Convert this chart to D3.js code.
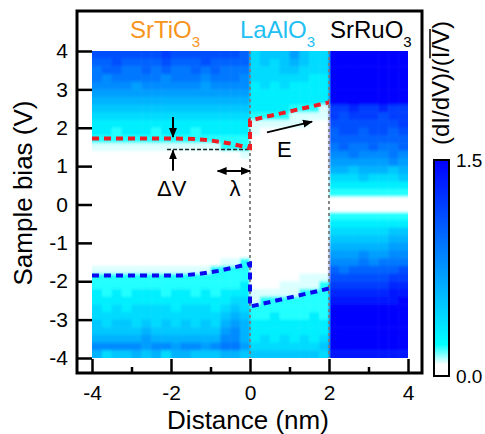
<!DOCTYPE html>
<html>
<head>
<meta charset="utf-8">
<script src="https://d3js.org/d3.v7.min.js"></script>
<style>
  body { margin:0; background:#fff; }
  text { font-family: "Liberation Sans", Arial, sans-serif; }
</style>
</head>
<body>
<script>
// map cells: 0.25 nm columns from -4 to 4, 0.2 V rows from 4 (top) to -4
// each char is a hex digit, value = digit / 10  (0.0 .. 1.5)
var colStep = 0.25, rowStep = 0.2;

var stoRows = [
  "bbbbbbbcbbbbbbba","aabaaaabaaabaaaa","9aa99a9a99a9a999","9899999899989998",
  "8888788888878888","7777777777777777","6666666666666666","5555555555555555",
  "4444444444444444","3333333333333333","3323332333233333","2222222222222222",
  "1111111111111222","0000000000000001","0000000000000000","0000000000000000",
  "0000000000000000","0000000000000000","0000000000000000","0000000000000000",
  "0000000000000000","0000000000000000","0000000000000000","0000000000000000",
  "0000000000000000","0000000000000000","0000000000000000","0000000000000112",
  "1111111111112222","2222222222222222","2222222222222223","3232333233232333",
  "3333333333333344","4343444434443454","4444444444444565","5455454545454676",
  "5555565555555786","6666676666666886","8888878878878997","6455656466555665"
];
var laoRows = [
  "45557544","45456544","44455444","44444433","34343333","33333333","33333333","33332221",
  "22221111","11111100","10000000","00000000","00000000","00000000","00000000","00000000",
  "00000000","00000000","00000000","00000000","00000000","00000000","00000000","00000000",
  "00000000","00000000","00000000","00000000","00000000","00000111","00011112","11111222",
  "12222222","22222222","22322232","33333333","33333333","34343434","44444445","55555554"
];
var sroRows = [
  "ffffffff","ffffffff","ffffffff","ffffffff","ffffffff","ffffffff","ffffffff","ccdccdcc",
  "cbcccbcc","bbbbbbbc","abbabbab","aaaaaaaa","9a99a99a","88988898","77777787","66566656",
  "44454445","33333333","22222222","00000000","00000000","22222222","33333333","44444455",
  "55555566","66666677","77787788","88898999","a9aaaaab","bbbbbbcc","ccccccdd","ddddddee",
  "eeeeeeef","ffffffff","ffffffff","ffffffff","ffffffff","ffffffff","ffffffff","eeeeeeee"
];

var layers = [
  { name: "SrTiO", color: "#f7941e", x0: -4 },
  { name: "LaAlO", color: "#22bff3", x0: 0 },
  { name: "SrRuO", color: "#000000", x0: 2 }
];
var interfaces = [0, 2];
var xTicks = [-4, -2, 0, 2, 4];
var xMinor = [-3, -1, 1, 3];
var yTicks = [-4, -3, -2, -1, 0, 1, 2, 3, 4];

// band edges (nm, V)
var cbEdge = [[-4, 1.72], [-2, 1.72], [-1.4, 1.71], [-1, 1.67], [-0.5, 1.59], [0, 1.47], [0, 2.19], [2, 2.66]];
var vbEdge = [[-4, -1.85], [-1.75, -1.85], [-1.3, -1.81], [-0.8, -1.73], [-0.4, -1.64], [0, -1.54], [0, -2.66], [2, -2.19]];
var offsetLine = [[-2.1, 1.43], [0, 1.43]];

var svg = d3.select("body").append("svg")
  .attr("width", 485)
  .attr("height", 434);

var x = d3.scaleLinear().domain([-4, 4]).range([92, 408]);
var y = d3.scaleLinear().domain([-4, 4]).range([358, 51]);

var color = d3.scaleLinear()
  .domain([0, 0.08, 0.22, 1.5])
  .range(["#ffffff", "#ffffff", "#00ffff", "#0000ff"])
  .clamp(true);

var defs = svg.append("defs");
defs.append("clipPath").attr("id", "mapclip")
  .append("rect")
  .attr("x", x(-4)).attr("y", y(4))
  .attr("width", x(4) - x(-4)).attr("height", y(-4) - y(4));
var blur = defs.append("filter").attr("id", "soft")
  .attr("x", "-5%").attr("y", "-5%").attr("width", "110%").attr("height", "110%");
blur.append("feGaussianBlur").attr("stdDeviation", "0.8 1.8");

// build cells
var cells = [];
function addCells(rows, x0) {
  rows.forEach(function(row, r) {
    for (var c = 0; c < row.length; c++) {
      var cx = x0 + c * colStep;
      cells.push({
        x: cx,
        v: 4 - (r + 1) * rowStep,
        value: parseInt(row[c], 16) / 10,
        top: r === 0,
        bottom: r === rows.length - 1,
        left: cx === -4,
        right: cx + colStep === 4
      });
    }
  });
}
addCells(stoRows, -4);
addCells(laoRows, 0);
addCells(sroRows, 2);

// edge cells run a little past the map so the blur does not fade the border
var pad = 6;
svg.append("g").attr("clip-path", "url(#mapclip)")
  .append("g").attr("filter", "url(#soft)")
  .selectAll("rect")
  .data(cells)
  .enter()
  .append("rect")
  .attr("x", function(d) { return x(d.x) - (d.left ? pad : 0); })
  .attr("y", function(d) { return y(d.v + rowStep) - (d.top ? pad : 0); })
  .attr("width", function(d) { return x(d.x + colStep) - x(d.x) + 0.5 + (d.left ? pad : 0) + (d.right ? pad : 0); })
  .attr("height", function(d) { return y(d.v) - y(d.v + rowStep) + 0.5 + (d.top ? pad : 0) + (d.bottom ? pad : 0); })
  .attr("fill", function(d) { return color(d.value); });

// interface lines
svg.append("g").selectAll("line")
  .data(interfaces)
  .enter()
  .append("line")
  .attr("x1", function(d) { return x(d); })
  .attr("x2", function(d) { return x(d); })
  .attr("y1", y(4))
  .attr("y2", y(-4))
  .attr("stroke", "#7a7a7a")
  .attr("stroke-width", 1.8)
  .attr("stroke-dasharray", "3,3");

var line = d3.line().x(function(d) { return x(d[0]); }).y(function(d) { return y(d[1]); });

svg.append("path").attr("d", line(offsetLine))
  .attr("fill", "none").attr("stroke", "#222").attr("stroke-width", 1.5)
  .attr("stroke-dasharray", "4,2");

svg.append("path").attr("d", line(cbEdge))
  .attr("fill", "none").attr("stroke", "#ee1c24").attr("stroke-width", 4)
  .attr("stroke-dasharray", "7,5");

svg.append("path").attr("d", line(vbEdge))
  .attr("fill", "none").attr("stroke", "#0a0af0").attr("stroke-width", 4)
  .attr("stroke-dasharray", "7,5");

// arrows
defs.append("marker")
  .attr("id", "head")
  .attr("viewBox", "0 0 10 10")
  .attr("refX", 9).attr("refY", 5)
  .attr("markerWidth", 5).attr("markerHeight", 5)
  .attr("markerUnits", "strokeWidth")
  .attr("orient", "auto-start-reverse")
  .append("path").attr("d", "M0,1 L10,5 L0,9 z").attr("fill", "#000");

var arrows = [
  { from: [-1.95, 2.28], to: [-1.95, 1.76], both: false },
  { from: [-1.95, 0.88], to: [-1.95, 1.41], both: false },
  { from: [-0.82, 0.87], to: [0, 0.87], both: true },
  { from: [0.43, 1.88], to: [1.57, 2.16], both: false }
];
svg.append("g").selectAll("line")
  .data(arrows)
  .enter()
  .append("line")
  .attr("x1", function(d) { return x(d.from[0]); })
  .attr("y1", function(d) { return y(d.from[1]); })
  .attr("x2", function(d) { return x(d.to[0]); })
  .attr("y2", function(d) { return y(d.to[1]); })
  .attr("stroke", "#000")
  .attr("stroke-width", 2)
  .attr("marker-end", "url(#head)")
  .attr("marker-start", function(d) { return d.both ? "url(#head)" : null; });

var notes = [
  { t: "\u0394V", x: -1.98, v: 0.23 },
  { t: "\u03bb", x: -0.38, v: 0.23 },
  { t: "E", x: 0.87, v: 1.25 }
];
svg.append("g").selectAll("text")
  .data(notes)
  .enter()
  .append("text")
  .attr("x", function(d) { return x(d.x); })
  .attr("y", function(d) { return y(d.v); })
  .attr("text-anchor", "middle")
  .attr("font-size", 22)
  .text(function(d) { return d.t; });

// layer names
var names = svg.append("g").selectAll("text")
  .data(layers)
  .enter()
  .append("text")
  .attr("x", function(d, i) { return [130, 240, 330][i]; })
  .attr("y", 38)
  .attr("font-size", 24)
  .attr("fill", function(d) { return d.color; });
names.append("tspan").text(function(d) { return d.name; });
names.append("tspan").attr("font-size", 15).attr("dy", 9).text("3");

// axes
var xAxis = svg.append("g")
  .attr("transform", "translate(0,373)")
  .call(d3.axisBottom(x).tickValues(xTicks).tickSize(-14).tickPadding(12).tickFormat(function(d) { return String(d); }));
var xAxisMinor = svg.append("g")
  .attr("transform", "translate(0,373)")
  .call(d3.axisBottom(x).tickValues(xMinor).tickSize(-6).tickFormat(""));
var yAxis = svg.append("g")
  .attr("transform", "translate(77,0)")
  .call(d3.axisLeft(y).tickValues(yTicks).tickSize(-15).tickPadding(9).tickFormat(function(d) { return String(d); }));

[xAxis, xAxisMinor, yAxis].forEach(function(g) {
  g.select(".domain").remove();
  g.attr("font-size", 21).attr("font-family", "Liberation Sans, Arial, sans-serif");
  g.selectAll(".tick line").attr("stroke", "#000").attr("stroke-width", 2.5);
  g.selectAll(".tick text").attr("fill", "#000");
});

// frame
svg.append("rect")
  .attr("x", 77).attr("y", 11)
  .attr("width", 345).attr("height", 362)
  .attr("fill", "none").attr("stroke", "#000").attr("stroke-width", 3);

svg.append("text")
  .attr("x", 248).attr("y", 429)
  .attr("text-anchor", "middle")
  .attr("font-size", 26)
  .text("Distance (nm)");

svg.append("text")
  .attr("transform", "translate(32,193) rotate(-90)")
  .attr("text-anchor", "middle")
  .attr("font-size", 26)
  .text("Sample bias (V)");

// colour bar
var cb = d3.scaleLinear().domain([0, 1.5]).range([376, 160]);
var grad = defs.append("linearGradient")
  .attr("id", "cbar").attr("x1", 0).attr("y1", 1).attr("x2", 0).attr("y2", 0);
d3.range(0, 1.501, 0.02).forEach(function(v) {
  grad.append("stop").attr("offset", v / 1.5).attr("stop-color", color(v));
});
svg.append("rect")
  .attr("x", 434).attr("y", cb(1.5))
  .attr("width", 15).attr("height", cb(0) - cb(1.5))
  .attr("fill", "url(#cbar)")
  .attr("stroke", "#000").attr("stroke-width", 2);

svg.append("g").selectAll("text")
  .data([0, 1.5])
  .enter()
  .append("text")
  .attr("x", 456)
  .attr("y", function(d) { return cb(d) + 7; })
  .attr("font-size", 19)
  .text(function(d) { return d.toFixed(1); });

var lab = svg.append("g").attr("transform", "translate(449,83) rotate(-90)");
var labText = lab.append("text")
  .attr("text-anchor", "middle")
  .attr("font-size", 24)
  .text("(dI/dV)/(I/V)");
var node = labText.node();
var total = node.getComputedTextLength();
var start = -total / 2;
lab.append("line")
  .attr("x1", start + node.getSubStringLength(0, 9))
  .attr("x2", start + node.getSubStringLength(0, 12))
  .attr("y1", -19).attr("y2", -19)
  .attr("stroke", "#000").attr("stroke-width", 1.5);
</script>
</body>
</html>
